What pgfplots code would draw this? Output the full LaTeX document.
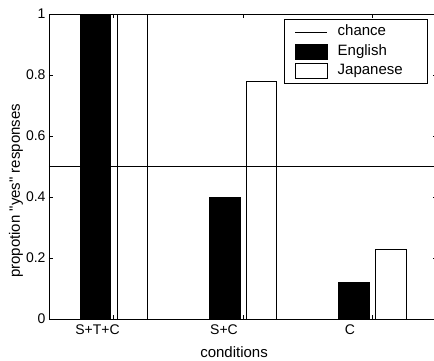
\documentclass[border=0pt]{standalone}
\usepackage{fontspec}
\setmainfont{Liberation Sans}[Ligatures=TeXOff]
\usepackage{pgfplots}
\pgfplotsset{compat=1.18}
\pgfplotsset{
  mylineleg/.style={legend image code/.code={\draw[##1] (0pt,0pt) -- (32pt,0pt);}},
  myboxleg/.style={legend image code/.code={\draw[##1] (0pt,-7.5pt) rectangle (32pt,7.5pt);}},
}
\begin{document}
\begin{tikzpicture}
\begin{axis}[
  at={(49pt,41pt)}, anchor=south west,
  scale only axis, width=388pt, height=305pt,
  xmin=0.5, xmax=3.5, ymin=0, ymax=1,
  xtick={1,2,3}, xticklabels={},
  extra x ticks={0.875,1.853,2.827},
  extra x tick labels={S+T+C,S+C,C},
  extra x tick style={major tick length=0pt, ticklabel style={yshift=-2pt}},
  ytick={0,0.2,0.4,0.6,0.8,1},
  yticklabels={0,0.2,0.4,0.6,0.8,1},
  /pgf/number format/assume math mode=true,
  tick align=inside, major tick length=4pt,
  tick style={black, line width=0.6pt},
  axis line style={line width=0.8pt},
  tick label style={font=\fontsize{14}{16}\selectfont},
  label style={font=\fontsize{15}{17}\selectfont},
  xlabel={conditions}, ylabel={propotion "yes" responses},
  xlabel style={at={(axis description cs:0.477,-0.108)}, anchor=center},
  ylabel style={at={(axis description cs:-0.085,0.42)}, anchor=center},
  legend style={at={(axis description cs:0.977,0.984)}, anchor=north east,
    draw=black, line width=0.6pt, fill=white,
    font=\fontsize{15}{17}\selectfont,
    inner xsep=11pt, inner ysep=3pt, column sep=6pt,
    cells={anchor=west},
    nodes={inner xsep=4pt, inner ysep=2.5pt, text height=11pt, text depth=3.5pt}},
]
\addplot[black, line width=0.6pt, mylineleg]
  coordinates {(0.5,0.5) (3.5,0.5)};
\addlegendentry{chance}
\addplot[ybar, bar width=0.235, bar shift=-0.142, draw=black, fill=black, line width=0.6pt, myboxleg]
  coordinates {(1,1) (2,0.40) (3,0.12)};
\addlegendentry{English}
\addplot[ybar, bar width=0.235, bar shift=0.142, draw=black, fill=none, line width=0.6pt, myboxleg]
  coordinates {(1,1) (2,0.78) (3,0.23)};
\addlegendentry{Japanese\hspace*{10pt}}
\end{axis}
\pgfresetboundingbox
\path (0pt,0pt) rectangle (434pt,360pt);
\end{tikzpicture}
\end{document}
